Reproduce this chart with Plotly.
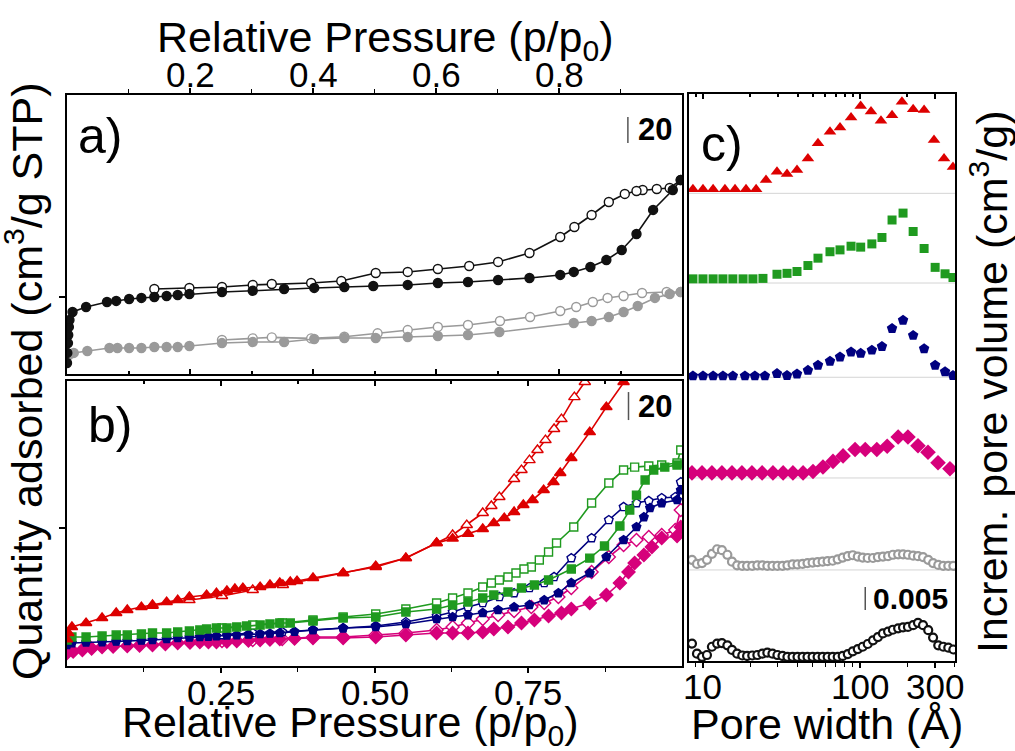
import math
import plotly.graph_objects as go

W, H = 1015, 751
FONT = "Arial, Liberation Sans, Helvetica, sans-serif"

# ---------------- Panel a (isotherms, y in cm3/g, arbitrary origin) ----------------
a_black_ads_x = [0.000, 0.0005, 0.0016, 0.002, 0.003, 0.004, 0.009, 0.031, 0.065, 0.080, 0.101, 0.121,
                 0.142, 0.162, 0.180, 0.199, 0.252, 0.302, 0.353, 0.402, 0.451, 0.498, 0.554, 0.603,
                 0.652, 0.701, 0.752, 0.802, 0.824, 0.851, 0.877, 0.902, 0.926, 0.953, 0.985, 0.998]
a_black_ads_y = [8.5, 16.2, 23.8, 30.0, 36.2, 41.5, 47.7, 51.5, 55.4, 56.2, 57.7, 58.5,
                 59.2, 60.0, 60.8, 61.5, 63.1, 64.0, 65.4, 66.2, 66.9, 67.7, 68.5, 70.0,
                 70.8, 72.3, 73.8, 76.2, 78.5, 82.3, 87.7, 95.4, 107.7, 126.2, 141.5, 149.2]
a_black_des_x = [0.998, 0.980, 0.959, 0.936, 0.926, 0.907, 0.881, 0.853, 0.825, 0.802, 0.752, 0.701,
                 0.654, 0.603, 0.554, 0.502, 0.446, 0.397, 0.333, 0.302, 0.252, 0.199, 0.142]
a_black_des_y = [149.2, 143.1, 142.3, 141.5, 140.8, 138.5, 132.3, 122.3, 113.1, 105.4, 93.1, 86.2,
                 83.1, 80.8, 78.5, 77.7, 71.5, 70.0, 69.2, 68.5, 66.9, 66.2, 65.4]
a_gray_ads_x = [0.003, 0.011, 0.033, 0.069, 0.082, 0.101, 0.121, 0.142, 0.162, 0.180, 0.199, 0.252,
                0.302, 0.353, 0.402, 0.451, 0.502, 0.554, 0.603, 0.652, 0.703, 0.824, 0.853, 0.881,
                0.905, 0.928, 0.956, 0.980, 0.998]
a_gray_ads_y = [14.6, 16.2, 17.7, 20.0, 20.0, 20.0, 20.0, 20.8, 20.8, 20.8, 21.5, 23.8,
                24.6, 24.6, 26.9, 27.7, 27.7, 28.5, 29.2, 30.0, 32.3, 39.2, 40.8, 43.8,
                47.7, 52.3, 58.5, 61.5, 63.1]
a_gray_des_x = [0.998, 0.975, 0.935, 0.905, 0.879, 0.855, 0.828, 0.802, 0.753, 0.704, 0.652, 0.603,
                0.554, 0.505, 0.451, 0.397, 0.333, 0.302, 0.252]
a_gray_des_y = [63.1, 63.1, 62.3, 60.0, 58.5, 55.4, 51.5, 48.5, 43.8, 40.8, 37.7, 36.2,
                33.8, 31.3, 28.7, 27.4, 28.2, 27.4, 26.2]

# ---------------- Panel b ----------------
b_red_ads_x = [0.000, 0.002, 0.008, 0.031, 0.057, 0.080, 0.098, 0.121, 0.139, 0.162, 0.180, 0.199,
               0.227, 0.243, 0.260, 0.273, 0.286, 0.314, 0.330, 0.346, 0.363, 0.374, 0.400, 0.449,
               0.502, 0.551, 0.601, 0.627, 0.652, 0.676, 0.694, 0.711, 0.727, 0.742, 0.757, 0.775,
               0.791, 0.802, 0.820, 0.850, 0.877, 0.905, 0.935]
b_red_ads_y = [19.0, 23.6, 27.9, 30.7, 34.3, 37.9, 40.0, 42.1, 43.6, 45.7, 47.1, 49.3,
               50.7, 52.1, 53.6, 55.0, 55.7, 56.4, 57.9, 59.3, 60.0, 60.7, 62.9, 66.4,
               70.7, 77.1, 87.9, 91.0, 94.5, 97.9, 102.1, 105.7, 110.0, 115.0, 118.6, 125.7,
               131.4, 137.9, 148.6, 167.1, 185.0, 202.9, 221.0]
b_red_des_x = [0.869, 0.842, 0.825, 0.804, 0.792, 0.778, 0.765, 0.752, 0.739, 0.727, 0.703, 0.690,
               0.676, 0.650, 0.627, 0.601, 0.551, 0.502, 0.449, 0.351, 0.302, 0.252, 0.199, 0.139]
b_red_des_y = [225.7, 202.9, 192.1, 176.4, 169.3, 161.4, 154.3, 147.1, 140.0, 133.6, 120.7, 114.3,
               109.3, 100.7, 93.6, 87.9, 77.1, 71.4, 66.4, 57.9, 54.3, 50.0, 47.1, 43.0]

b_green_ads_x = [0.000, 0.008, 0.031, 0.057, 0.080, 0.098, 0.121, 0.139, 0.162, 0.180, 0.199, 0.216,
                 0.227, 0.243, 0.260, 0.276, 0.292, 0.314, 0.330, 0.346, 0.363, 0.400, 0.449, 0.502,
                 0.551, 0.601, 0.627, 0.652, 0.676, 0.694, 0.717, 0.739, 0.760, 0.783, 0.820, 0.850,
                 0.874, 0.899, 0.915, 0.926, 0.940, 0.954, 0.972, 0.992]
b_green_ads_y = [18.6, 20.7, 20.7, 21.4, 22.1, 22.1, 22.9, 23.6, 23.6, 24.3, 25.0, 25.7,
                 26.4, 27.1, 27.1, 27.9, 28.6, 29.3, 30.0, 30.7, 30.7, 32.1, 34.3, 35.0,
                 38.6, 40.7, 43.6, 45.7, 48.6, 50.7, 52.9, 55.7, 57.9, 61.4, 69.3, 77.1,
                 85.7, 100.0, 111.4, 122.1, 132.9, 140.0, 142.1, 143.6]
b_green_des_x = [0.998, 0.992, 0.967, 0.946, 0.923, 0.905, 0.881, 0.853, 0.824, 0.796, 0.783, 0.768,
                 0.755, 0.743, 0.730, 0.717, 0.703, 0.690, 0.676, 0.652, 0.627, 0.601, 0.551, 0.502,
                 0.449, 0.400, 0.350, 0.302, 0.252]
b_green_des_y = [154.3, 145.0, 143.6, 142.9, 142.1, 140.0, 130.7, 116.4, 99.3, 87.9, 81.4, 75.7,
                 70.7, 69.3, 66.4, 63.6, 61.4, 59.3, 56.4, 52.1, 48.6, 45.0, 40.7, 37.1,
                 35.0, 32.9, 30.7, 29.3, 27.1]

b_navy_ads_x = [0.000, 0.008, 0.031, 0.057, 0.080, 0.098, 0.121, 0.139, 0.162, 0.180, 0.199, 0.216,
                0.230, 0.243, 0.260, 0.276, 0.295, 0.314, 0.330, 0.346, 0.370, 0.400, 0.449, 0.502,
                0.551, 0.601, 0.627, 0.652, 0.676, 0.701, 0.727, 0.752, 0.776, 0.799, 0.820, 0.850,
                0.877, 0.905, 0.926, 0.938, 0.948, 0.967, 0.992, 0.998]
b_navy_ads_y = [15.0, 16.4, 16.8, 17.1, 17.5, 17.9, 18.2, 18.6, 19.3, 20.0, 20.4, 20.7,
                21.0, 21.4, 21.8, 22.1, 22.5, 22.9, 23.2, 23.6, 24.5, 25.7, 27.1, 27.9,
                30.0, 33.6, 35.0, 36.4, 37.9, 40.0, 42.1, 43.6, 47.1, 52.1, 59.3, 66.4,
                77.9, 90.0, 99.3, 106.4, 112.9, 116.4, 118.6, 125.7]
b_navy_des_x = [0.998, 0.989, 0.967, 0.946, 0.926, 0.905, 0.881, 0.853, 0.820, 0.792, 0.776, 0.752,
                0.727, 0.703, 0.676, 0.652, 0.627, 0.601, 0.551, 0.502, 0.449, 0.400, 0.350, 0.302,
                0.252]
b_navy_des_y = [131.4, 120.7, 120.0, 117.9, 116.4, 113.6, 104.3, 91.4, 77.1, 63.6, 59.3, 55.7,
                52.1, 49.3, 45.0, 42.1, 38.6, 35.7, 31.4, 28.6, 27.1, 25.7, 24.3, 23.6,
                22.1]

b_mag_ads_x = [0.000, 0.010, 0.025, 0.040, 0.057, 0.075, 0.098, 0.118, 0.139, 0.160, 0.180, 0.200,
               0.216, 0.230, 0.243, 0.260, 0.276, 0.295, 0.314, 0.330, 0.346, 0.370, 0.400, 0.449,
               0.502, 0.551, 0.601, 0.627, 0.652, 0.676, 0.694, 0.717, 0.739, 0.760, 0.783, 0.804,
               0.820, 0.850, 0.877, 0.899, 0.913, 0.923, 0.938, 0.951, 0.967, 0.992, 0.998]
b_mag_ads_y = [9.3, 10.4, 11.4, 12.5, 13.6, 13.9, 14.3, 14.6, 15.0, 15.7, 16.4, 16.8,
               17.1, 17.1, 17.1, 17.5, 17.9, 18.2, 18.6, 18.9, 19.3, 19.6, 20.0, 20.0,
               20.7, 22.1, 23.6, 23.6, 23.6, 24.3, 26.4, 27.9, 30.7, 32.9, 35.7, 37.9,
               40.7, 45.0, 50.7, 59.3, 67.1, 73.6, 79.3, 85.0, 91.4, 92.9, 99.3]
b_mag_des_x = [0.998, 0.989, 0.967, 0.946, 0.926, 0.905, 0.881, 0.853, 0.820, 0.799, 0.776, 0.755,
               0.727, 0.701, 0.676, 0.652, 0.627, 0.601, 0.551, 0.502, 0.449, 0.400, 0.350, 0.302,
               0.252]
b_mag_des_y = [111.4, 97.1, 93.6, 92.1, 90.0, 86.4, 77.9, 67.1, 55.7, 49.3, 45.0, 42.1,
               39.3, 36.4, 33.6, 30.7, 27.9, 25.7, 23.6, 22.1, 20.7, 20.7, 19.3, 18.6,
               17.9]

# ---------------- Panel c (pore size distributions, cm3/g) ----------------
c_offsets = [0.1017, 0.0822, 0.0617, 0.0398, 0.0198, 0.0004]   # red, green, navy, magenta, gray, black

c_red_w = [8.63, 10.0, 11.6, 13.8, 16.0, 18.8, 21.8, 25.2, 29.6, 34.3, 39.7, 46.6, 54.0,
           64.4, 74.6, 87.7, 101, 117.5, 136, 160, 185, 218, 256, 296, 343, 391]
c_red_v = [0.0009, 0.0009, 0.0009, 0.0009, 0.0009, 0.0009, 0.0009, 0.0029, 0.0047, 0.0042, 0.0051,
           0.0076, 0.0109, 0.0134, 0.0143, 0.0165, 0.0190, 0.0178, 0.0158, 0.0170, 0.0199, 0.0183,
           0.0181, 0.0116, 0.0076, 0.0057]

c_green_w = [8.63, 10.0, 11.6, 13.4, 15.5, 18.0, 20.8, 24.1, 29.6, 34.3, 39.7, 46.6, 54.0,
             64.4, 74.6, 87.7, 101, 119, 138, 160, 188, 218, 256, 301, 348, 391]
c_green_v = [0.0009, 0.0009, 0.0009, 0.0009, 0.0009, 0.0009, 0.0009, 0.0010, 0.0019, 0.0021, 0.0025,
             0.0038, 0.0054, 0.0068, 0.0072, 0.0080, 0.0078, 0.0085, 0.0099, 0.0137, 0.0152, 0.0112,
             0.0075, 0.0034, 0.0020, 0.0012]

c_navy_w = [8.63, 10.0, 11.6, 13.4, 15.5, 18.5, 21.4, 24.8, 29.6, 34.3, 39.7, 46.6, 54.0,
            64.4, 74.6, 87.7, 101, 119, 138, 160, 188, 218, 256, 301, 348, 391]
c_navy_v = [0.0003, 0.0003, 0.0003, 0.0003, 0.0003, 0.0003, 0.0003, 0.0003, 0.0008, 0.0004, 0.0007,
            0.0015, 0.0026, 0.0035, 0.0044, 0.0055, 0.0052, 0.0059, 0.0067, 0.0106, 0.0124, 0.0091,
            0.0062, 0.0026, 0.0012, 0.0004]

c_mag_w = [8.51, 9.86, 11.4, 13.2, 15.3, 17.7, 20.5, 23.8, 27.9, 32.4, 37.4, 43.4, 50.2,
           58.1, 67.3, 78.0, 93.0, 108, 128, 149, 175, 202, 234, 271, 314, 374]
c_mag_v = [0.0011, 0.0011, 0.0011, 0.0011, 0.0011, 0.0011, 0.0011, 0.0011, 0.0011, 0.0011, 0.0011,
           0.0011, 0.0014, 0.0024, 0.0036, 0.0048, 0.0062, 0.0062, 0.0062, 0.0069, 0.0089, 0.0089,
           0.0070, 0.0056, 0.0033, 0.0020]

c_dense_w = [8.51, 9.16, 9.86, 10.6, 11.4, 12.3, 13.2, 14.3, 15.3, 16.5, 17.8, 19.1, 20.6, 22.2,
             23.9, 25.7, 27.7, 29.8, 32.1, 34.5, 37.2, 40.0, 43.1, 46.3, 49.9, 53.7, 57.8, 62.2,
             67.0, 72.1, 77.6, 83.6, 89.9, 96.8, 104, 112, 121, 130, 140, 151, 162, 175, 188, 202,
             218, 234, 252, 272, 292, 315, 339, 365, 393]
c_gray_v = [0.0022, 0.0013, 0.0015, 0.0022, 0.0035, 0.0045, 0.0043, 0.0033, 0.0018, 0.0010, 0.0009,
            0.0009, 0.0009, 0.0010, 0.0010, 0.0009, 0.0009, 0.0009, 0.0009, 0.0010, 0.0012, 0.0012,
            0.0013, 0.0015, 0.0016, 0.0017, 0.0018, 0.0019, 0.0020, 0.0023, 0.0027, 0.0030, 0.0032,
            0.0029, 0.0027, 0.0026, 0.0026, 0.0028, 0.0029, 0.0030, 0.0033, 0.0034, 0.0034, 0.0033,
            0.0031, 0.0030, 0.0028, 0.0022, 0.0015, 0.0011, 0.0009, 0.0009, 0.0009]
c_black_v = [0.0034, 0.0012, 0.0005, 0.0009, 0.0027, 0.0034, 0.0035, 0.0030, 0.0020, 0.0012, 0.0008,
             0.0007, 0.0008, 0.0009, 0.0012, 0.0014, 0.0012, 0.0009, 0.0007, 0.0005, 0.0005, 0.0005,
             0.0005, 0.0005, 0.0005, 0.0005, 0.0005, 0.0005, 0.0005, 0.0005, 0.0007, 0.0011, 0.0017,
             0.0022, 0.0027, 0.0033, 0.0041, 0.0048, 0.0056, 0.0060, 0.0064, 0.0067, 0.0069, 0.0070,
             0.0074, 0.0079, 0.0074, 0.0063, 0.0047, 0.0030, 0.0027, 0.0025, 0.0021]

# tick values / labels
p_top_ticks = [0.2, 0.4, 0.6, 0.8]
p_top_labels = ["0.2", "0.4", "0.6", "0.8"]
p_top_minor = [0.1, 0.3, 0.5, 0.7, 0.9]
p_bot_ticks = [0.25, 0.5, 0.75]
p_bot_labels = ["0.25", "0.50", "0.75"]
p_bot_minor = [0.125, 0.375, 0.625, 0.875]
w_ticks = [10, 100, 300]
w_labels = ["10", "100", "300"]
w_minor = [9, 20, 30, 40, 50, 60, 70, 80, 90, 200, 400]
qa_ticks = [59.2]     # single unlabeled y tick, panel a
qb_ticks = [98.6]     # single unlabeled y tick, panel b

# scale bars
scale_iso = 20
scale_psd = 0.005

RED, GREEN, NAVY, MAG, GRAY, BLACK = "#dd0000", "#1f9a1f", "#000080", "#d6007b", "#9a9a9a", "#111111"

fig = go.Figure()


def iso(x, y, color, symbol, size, filled, axis):
    fig.add_trace(go.Scatter(
        x=x, y=y, mode="lines+markers", xaxis=axis[0], yaxis=axis[1],
        line=dict(color=color, width=1.6),
        marker=dict(symbol=symbol, size=size,
                    color=color if filled else "white",
                    line=dict(color=color, width=1.4)),
        showlegend=False, hoverinfo="skip"))


# panel a
iso(a_gray_des_x, a_gray_des_y, GRAY, "circle", 9, False, ("x", "y"))
iso(a_gray_ads_x, a_gray_ads_y, GRAY, "circle", 9, True, ("x", "y"))
iso(a_black_des_x, a_black_des_y, BLACK, "circle", 9, False, ("x", "y"))
iso(a_black_ads_x, a_black_ads_y, BLACK, "circle", 9, True, ("x", "y"))

# panel b
for (dx, dy, ax_, ay_, col, sym, sz) in [
    (b_mag_des_x, b_mag_des_y, b_mag_ads_x, b_mag_ads_y, MAG, "diamond", 10),
    (b_navy_des_x, b_navy_des_y, b_navy_ads_x, b_navy_ads_y, NAVY, "pentagon", 9),
    (b_green_des_x, b_green_des_y, b_green_ads_x, b_green_ads_y, GREEN, "square", 8),
    (b_red_des_x, b_red_des_y, b_red_ads_x, b_red_ads_y, RED, "triangle-up", 10),
]:
    iso(dx, dy, col, sym, sz, False, ("x2", "y2"))
    iso(ax_, ay_, col, sym, sz, True, ("x2", "y2"))

# panel c
c_series = [
    (c_red_w, c_red_v, RED, "triangle-up", 11, True),
    (c_green_w, c_green_v, GREEN, "square", 9, True),
    (c_navy_w, c_navy_v, NAVY, "pentagon", 11, True),
    (c_mag_w, c_mag_v, MAG, "diamond", 12, True),
    (c_dense_w, c_gray_v, GRAY, "circle", 8, False),
    (c_dense_w, c_black_v, BLACK, "circle", 8, False),
]
for (w, v, col, sym, sz, filled), off in zip(c_series, c_offsets):
    fig.add_trace(go.Scatter(
        x=w, y=[off + val for val in v], mode="markers", xaxis="x3", yaxis="y3",
        marker=dict(symbol=sym, size=sz, color=col if filled else "white",
                    line=dict(color=col, width=0 if filled else 2.2)),
        showlegend=False, hoverinfo="skip"))

# invisible traces that register the mirrored tick axes
for xa, ya in [("x4", "y"), ("x5", "y2"), ("x6", "y3")]:
    fig.add_trace(go.Scatter(x=[None], y=[None], xaxis=xa, yaxis=ya, showlegend=False,
                             hoverinfo="skip", mode="markers"))

shapes = []
for off in c_offsets[:-1]:
    shapes.append(dict(type="line", xref="x3 domain", yref="y3", x0=0, x1=1, y0=off, y1=off,
                       line=dict(color="#d4d4d4", width=1), layer="below"))
# scale bars
shapes.append(dict(type="line", xref="x", yref="y", x0=0.912, x1=0.912, y0=177.7, y1=177.7 + scale_iso,
                   line=dict(color="#555555", width=1.5)))
shapes.append(dict(type="line", xref="x2", yref="y2", x0=0.913, x1=0.913, y0=175.7, y1=175.7 + scale_iso,
                   line=dict(color="#555555", width=1.5)))
shapes.append(dict(type="line", xref="x3", yref="y3", x0=108, x1=108, y0=0.0111, y1=0.0111 + scale_psd,
                   line=dict(color="#555555", width=1.5)))

TICKFONT = dict(family=FONT, size=35, color="black")
ax_common = dict(showline=True, linecolor="black", linewidth=2, mirror=True, showgrid=False,
                 zeroline=False, showticklabels=False, tickcolor="black", tickwidth=1.5, ticklen=5)
y_common = dict(showline=True, linecolor="black", linewidth=2, mirror=True, showgrid=False,
                zeroline=False, showticklabels=False, ticks="outside", ticklen=6, tickwidth=1.5,
                tickcolor="black")
mirror_common = dict(showline=False, showgrid=False, zeroline=False, showticklabels=False,
                     ticks="inside", ticklen=5, tickwidth=1.5, tickcolor="black")

TITLE = dict(family=FONT, size=43, color="black")
annotations = [
    dict(text="Relative Pressure (p/p<sub>0</sub>)", x=385 / W, y=1 - 40 / H, xref="paper", yref="paper",
         showarrow=False, font=TITLE, xanchor="center", yanchor="middle"),
    dict(text="Relative Pressure (p/p<sub>0</sub>)", x=350 / W, y=1 - 725 / H, xref="paper", yref="paper",
         showarrow=False, font=TITLE, xanchor="center", yanchor="middle"),
    dict(text="Pore width (Å)", x=827 / W, y=1 - 724 / H, xref="paper", yref="paper",
         showarrow=False, font=TITLE, xanchor="center", yanchor="middle"),
    dict(text="Quantity adsorbed (cm<sup>3</sup>/g STP)", x=24 / W, y=1 - 381 / H, xref="paper", yref="paper",
         showarrow=False, textangle=-90, font=TITLE, xanchor="center", yanchor="middle"),
    dict(text="Increm. pore volume (cm<sup>3</sup>/g)", x=989 / W, y=1 - 382 / H, xref="paper", yref="paper",
         showarrow=False, textangle=-90, font=TITLE, xanchor="center", yanchor="middle"),
    dict(text="a)", x=100 / W, y=1 - 136 / H, xref="paper", yref="paper", showarrow=False,
         font=dict(family=FONT, size=50, color="black"), xanchor="center", yanchor="middle"),
    dict(text="b)", x=110 / W, y=1 - 425 / H, xref="paper", yref="paper", showarrow=False,
         font=dict(family=FONT, size=50, color="black"), xanchor="center", yanchor="middle"),
    dict(text="c)", x=722 / W, y=1 - 144 / H, xref="paper", yref="paper", showarrow=False,
         font=dict(family=FONT, size=50, color="black"), xanchor="center", yanchor="middle"),
    dict(text="<b>20</b>", x=0.925, y=177.7 + scale_iso / 2, xref="x", yref="y", showarrow=False,
         font=dict(family=FONT, size=31, color="black"), xanchor="left", yanchor="middle"),
    dict(text="<b>20</b>", x=0.925, y=175.7 + scale_iso / 2, xref="x2", yref="y2", showarrow=False,
         font=dict(family=FONT, size=31, color="black"), xanchor="left", yanchor="middle"),
    dict(text="<b>0.005</b>", x=2.07, y=0.0111 + scale_psd / 2, xref="x3", yref="y3", showarrow=False,
         font=dict(family=FONT, size=30, color="black"), xanchor="left", yanchor="middle"),
]
# tick labels placed at the axis tick positions
for t, lab in zip(p_top_ticks, p_top_labels):
    annotations.append(dict(text=lab, x=t, xref="x", y=1 - 96 / H, yref="paper", showarrow=False,
                            font=TICKFONT, xanchor="center", yanchor="bottom"))
for t, lab in zip(p_bot_ticks, p_bot_labels):
    annotations.append(dict(text=lab, x=t, xref="x2", y=1 - 671 / H, yref="paper", showarrow=False,
                            font=TICKFONT, xanchor="center", yanchor="top"))
for t, lab in zip(w_ticks, w_labels):
    annotations.append(dict(text=lab, x=math.log10(t), xref="x3", y=1 - 665 / H, yref="paper",
                            showarrow=False, font=TICKFONT, xanchor="center", yanchor="top"))

fig.update_layout(
    width=W, height=H, margin=dict(l=0, r=0, t=0, b=0),
    paper_bgcolor="white", plot_bgcolor="white",
    font=dict(family=FONT, color="black"),
    xaxis=dict(ax_common, domain=[67 / W, 682 / W], anchor="y", side="top", range=[0, 1.0],
               tickvals=p_top_ticks, ticks="outside",
               minor=dict(tickvals=p_top_minor, ticks="outside", ticklen=4,
                          tickcolor="black", tickwidth=1.2)),
    xaxis4=dict(mirror_common, overlaying="x", anchor="y", side="bottom", range=[0, 1.0],
                tickvals=p_top_ticks,
                minor=dict(tickvals=p_top_minor, ticks="inside", ticklen=3, tickcolor="black")),
    yaxis=dict(y_common, domain=[1 - 374 / H, 1 - 95 / H], anchor="x", range=[0, 214.6],
               tickvals=qa_ticks),
    xaxis2=dict(ax_common, domain=[67 / W, 682 / W], anchor="y2", side="bottom", range=[0, 1.0],
                tickvals=p_bot_ticks, ticks="outside",
                minor=dict(tickvals=p_bot_minor, ticks="outside", ticklen=4,
                           tickcolor="black", tickwidth=1.2)),
    xaxis5=dict(mirror_common, overlaying="x2", anchor="y2", side="top", range=[0, 1.0],
                tickvals=p_bot_ticks,
                minor=dict(tickvals=p_bot_minor, ticks="inside", ticklen=3, tickcolor="black")),
    yaxis2=dict(y_common, domain=[1 - 666 / H, 1 - 381 / H], anchor="x2", range=[0, 203.6],
                tickvals=qb_ticks),
    xaxis3=dict(ax_common, domain=[689 / W, 955 / W], anchor="y3", type="log", range=[0.911, 2.605],
                tickvals=w_ticks, ticks="outside",
                minor=dict(tickvals=w_minor, ticks="outside",
                           ticklen=4, tickcolor="black", tickwidth=1.2)),
    xaxis6=dict(mirror_common, overlaying="x3", anchor="y3", side="top", type="log",
                range=[0.911, 2.605], tickvals=w_ticks,
                minor=dict(tickvals=w_minor, ticks="inside", ticklen=3, tickcolor="black")),
    yaxis3=dict(y_common, domain=[1 - 661 / H, 1 - 94 / H], anchor="x3", range=[0, 0.1233], ticks=""),
    shapes=shapes,
    annotations=annotations,
)

fig.write_html("out.html", config={"displayModeBar": False},
               post_script="document.body.style.margin='0px'; document.body.style.overflow='hidden';")
